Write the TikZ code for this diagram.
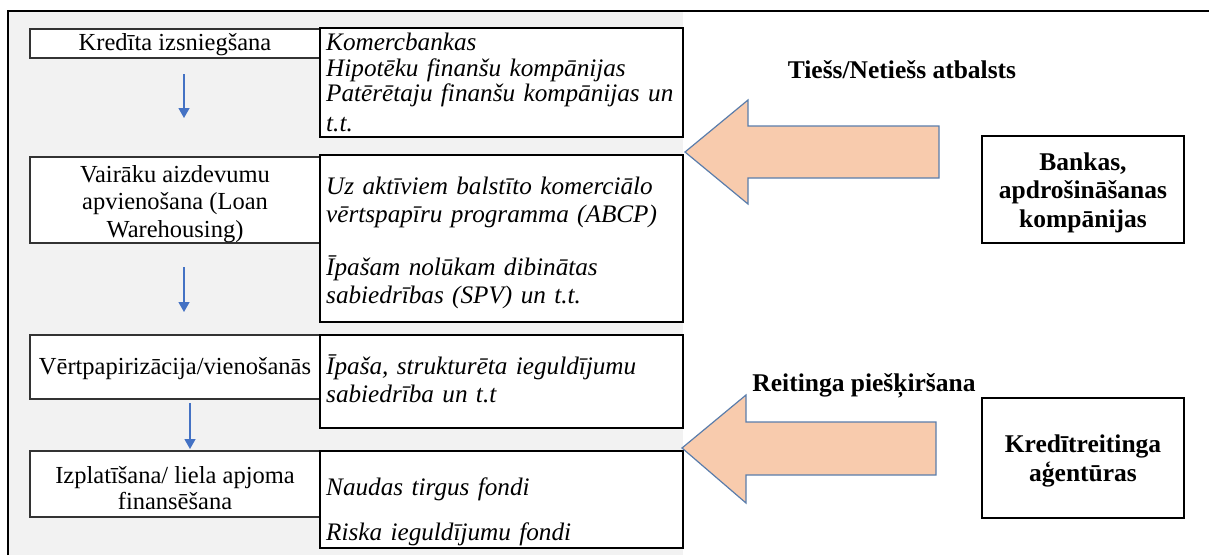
\documentclass[tikz,border=0pt]{standalone}
\usepackage{fontspec}
\setmainfont{Liberation Serif}
\usetikzlibrary{arrows.meta}
\definecolor{panel}{HTML}{F2F2F2}
\definecolor{flow}{HTML}{4472C4}
\definecolor{peach}{HTML}{F8CBAD}
\definecolor{peachedge}{HTML}{5A7DAB}

\begin{document}
\begin{tikzpicture}[x=1pt,y=-1pt,
  stage/.style={draw=black!80, line width=1.2pt, fill=white, outer sep=0pt,
    minimum width=290pt, inner sep=0pt, anchor=north west},
  stagetext/.style={inner sep=0pt, align=center, anchor=north,
    font=\fontsize{24.5}{27.5}\selectfont},
  actorbox/.style={draw=black, line width=2.6pt, fill=white, outer sep=0pt,
    minimum width=363pt, inner sep=0pt, anchor=north west},
  actortext/.style={inner sep=0pt, text width=355pt, align=left, anchor=north west,
    font=\fontsize{25.2}{28}\selectfont\itshape},
  support/.style={draw=black, line width=2.6pt, fill=white, outer sep=0pt,
    minimum width=202pt, inner sep=0pt, anchor=north west},
  supporttext/.style={inner sep=0pt, align=center, anchor=north,
    font=\fontsize{25.5}{28.5}\selectfont\bfseries},
  caption/.style={inner sep=0pt, font=\fontsize{25.5}{28}\selectfont\bfseries},
  flowarrow/.style={draw=flow, line width=1.3pt,
    -{Triangle[width=11pt,length=10pt]}},
  blockarrow/.style={fill=peach, draw=peachedge, line width=1.2pt, line join=miter}
]
\useasboundingbox (0,0) rectangle (1209,555);

% shaded panel and frame
\fill[panel] (8,11) rectangle (683,555);
\draw[line width=1.5pt] (8,555) -- (8,11) -- (1209,11);

% process stages (left column): frames
\node[stage, minimum height=29pt] (s1) at (30,29) {};
\node[stage, minimum height=86pt] (s2) at (30,157) {};
\node[stage, minimum height=64pt] (s3) at (30,335) {};
\node[stage, minimum height=66pt] (s4) at (30,451) {};

% process stages: labels
\node[stagetext] (l1) at (175,31) {\strut Kredīta izsniegšana};
\node[stagetext] (l2) at (175,163)
  {\strut Vairāku aizdevumu\\apvienošana (Loan\\Warehousing)};
\node[stagetext] (l3) at (175,355) {\strut Vērtpapirizācija/vienošanās};
\node[stagetext, font=\fontsize{24.5}{26}\selectfont] (l4) at (175,465)
  {\strut Izplatīšana/ liela apjoma\\finansēšana};

% participants (middle column): frames
\node[actorbox, minimum height=109pt] (p1) at (320,28) {};
\node[actorbox, minimum height=167pt] (p2) at (320,155) {};
\node[actorbox, minimum height=93pt]  (p3) at (320,335) {};
\node[actorbox, minimum height=97pt]  (p4) at (320,451) {};

% participants: lists
\node[actortext, font=\fontsize{25.2}{25}\selectfont\itshape] (t1) at (326,33)
  {\strut Komercbankas\\Hipotēku finanšu kompānijas\\Patērētaju finanšu kompānijas un\\[5pt]t.t.};
\node[actortext] (t2) at (326,175)
  {\strut Uz aktīviem balstīto komerciālo\\vērtspapīru programma (ABCP)\\[25pt]Īpašam nolūkam dibinātas\\sabiedrības (SPV) un t.t.};
\node[actortext] (t3) at (326,355)
  {\strut Īpaša, strukturēta ieguldījumu\\sabiedrība un t.t};
\node[actortext] (t4) at (326,476)
  {\strut Naudas tirgus fondi\\[17pt]Riska ieguldījumu fondi};

% flow between stages
\coordinate (f1a) at (184,74);  \coordinate (f1b) at (184,118);
\coordinate (f2a) at (184,267); \coordinate (f2b) at (184,312);
\coordinate (f3a) at (190,403); \coordinate (f3b) at (190,449);
\draw[flowarrow] (f1a) -- (f1b);
\draw[flowarrow] (f2a) -- (f2b);
\draw[flowarrow] (f3a) -- (f3b);

% supporting institutions (right column)
\node[support, minimum height=107pt] (b1) at (982,136) {};
\node[support, minimum height=120pt] (b2) at (982,398) {};
\node[supporttext] (u1) at (1083,150)
  {\strut Bankas,\\apdrošināšanas\\kompānijas};
\node[supporttext, font=\fontsize{25.5}{29}\selectfont\bfseries] (u2) at (1083,432)
  {\strut Kredītreitinga\\aģentūras};

% block arrows
\draw[blockarrow] (685,152) -- (748,100) -- (748,126) -- (939,126)
  -- (939,178) -- (748,178) -- (748,204) -- cycle;
\draw[blockarrow] (682,448) -- (746,395) -- (746,422) -- (936,422)
  -- (936,475) -- (746,475) -- (746,503) -- cycle;

\node[caption] (c1) at (902,70) {Tiešs/Netiešs atbalsts};
\node[caption] (c2) at (864,386) {Reitinga piešķiršana};
\end{tikzpicture}
\end{document}
